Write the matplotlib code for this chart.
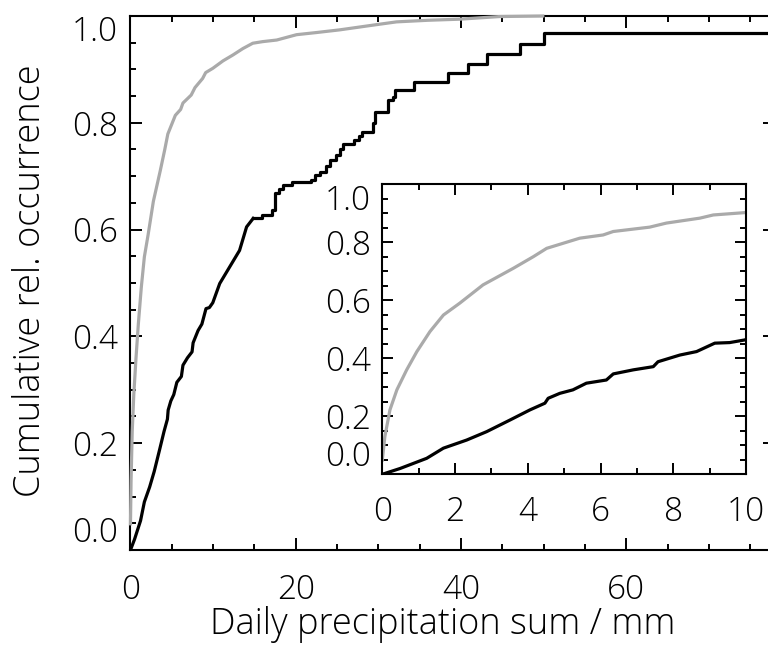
import matplotlib
matplotlib.use('Agg')
import matplotlib.pyplot as plt
from matplotlib.ticker import MultipleLocator

# gray curve, x in mm, y cumulative fraction
gray_x = [0, 0.07, 0.21, 0.4, 0.67, 0.95, 1.31, 1.68, 2.13, 2.77, 3.6, 4.15, 4.52,
          5.43, 6.07, 6.35, 7.35, 7.81, 8.73, 9.1, 9.96, 11.2, 12.4, 13.6, 14.8, 16.0,
          17.7, 20.1, 22.5, 25.3, 29.4, 32.2, 36.0, 39.8, 44.7, 49.9]
gray_y = [0.049, 0.13, 0.222, 0.291, 0.36, 0.423, 0.492, 0.549, 0.59, 0.653, 0.71, 0.75, 0.779,
          0.814, 0.825, 0.837, 0.852, 0.866, 0.883, 0.894, 0.902, 0.916, 0.927, 0.939, 0.949, 0.952,
          0.955, 0.965, 0.969, 0.974, 0.983, 0.989, 0.992, 0.994, 0.999, 1.0]

# black curve, smooth lower part
black_x = [0, 0.49, 1.22, 1.68, 2.32, 2.87, 3.51, 4.06, 4.47, 4.56, 4.88, 5.24, 5.61,
           6.16, 6.35, 6.9, 7.45, 7.58, 8.18, 8.64, 9.14, 9.55, 9.96, 10.8, 12.0, 13.2,
           14.05, 14.85]
black_y = [0, 0.02, 0.055, 0.09, 0.118, 0.147, 0.187, 0.222, 0.245, 0.262, 0.279, 0.291, 0.314,
           0.325, 0.346, 0.36, 0.371, 0.388, 0.411, 0.423, 0.452, 0.454, 0.463, 0.499, 0.53, 0.561,
           0.605, 0.621]

# black curve, stepped upper part
step_x = [14.85, 15.9, 17.1, 17.5, 18.0, 18.5, 19.5, 21.9, 22.3, 22.9, 23.7, 24.1, 24.9,
          25.3, 25.7, 27.1, 27.6, 28.0, 29.4, 29.6, 31.2, 31.8, 32.0, 34.3, 38.4, 40.9,
          43.1, 47.1, 50.0, 78.0]
step_y = [0.621, 0.628, 0.636, 0.668, 0.676, 0.684, 0.689, 0.693, 0.702, 0.708, 0.72, 0.73, 0.739,
          0.75, 0.761, 0.767, 0.776, 0.783, 0.799, 0.821, 0.843, 0.849, 0.861, 0.877, 0.894, 0.911,
          0.929, 0.948, 0.968, 0.968]

GRAY = '#aaaaaa'
LW = 2.3
FS = 24
LABEL_FS = 26

plt.rcParams['font.family'] = ['Open Sans', 'DejaVu Sans']
plt.rcParams['font.weight'] = 'light'
plt.rcParams['axes.labelweight'] = 'light'

fig = plt.figure(figsize=(7.68, 6.45), dpi=100)


def style_axes(a, xmaj, xmin, ymaj, ymin, majlen, minlen, xpad, ypad):
    a.xaxis.set_major_locator(MultipleLocator(xmaj))
    a.xaxis.set_minor_locator(MultipleLocator(xmin))
    a.yaxis.set_major_locator(MultipleLocator(ymaj))
    a.yaxis.set_minor_locator(MultipleLocator(ymin))
    a.tick_params(which='both', direction='in', top=True, right=True, width=1.4,
                  labelsize=FS, colors='black')
    a.tick_params(which='major', length=majlen)
    a.tick_params(which='minor', length=minlen)
    a.tick_params(axis='x', pad=xpad)
    a.tick_params(axis='y', pad=ypad)
    for s in a.spines.values():
        s.set_linewidth(1.5)


# main axes (right edge sits just outside the image)
ax = fig.add_axes([0.1699, 0.1473, 0.8392, 0.8279])
ax.plot(gray_x, gray_y, color=GRAY, lw=LW, zorder=3, clip_on=False)
ax.plot(black_x, black_y, color='black', lw=LW, zorder=3)
ax.plot(step_x, step_y, color='black', lw=LW, zorder=3, drawstyle='steps-post')
ax.set_xlim(0, 78)
ax.set_ylim(0, 1)
style_axes(ax, 20, 5, 0.2, 0.05, 8.6, 4.3, 17, 9)
ax.set_yticks([0, 0.2, 0.4, 0.6, 0.8, 1.0])
ax.set_yticklabels(['0.0', '0.2', '0.4', '0.6', '0.8', '1.0'])
ax.set_xticks([0, 20, 40, 60])
ax.set_xticklabels(['0', '20', '40', '60'])
yt = ax.yaxis.get_major_ticks()
yt[0].label1.set_va('bottom')
yt[-1].label1.set_va('top')
ax.set_xlabel('Daily precipitation sum / mm', fontsize=LABEL_FS, va='baseline')
ax.xaxis.set_label_coords(0.485, -0.157)
ax.set_ylabel('Cumulative rel. occurrence', fontsize=LABEL_FS, va='center')
ax.yaxis.set_label_coords(-0.155, 0.505)

# inset
ins = fig.add_axes([0.4978, 0.2647, 0.4736, 0.4497])
ins.plot(gray_x, gray_y, color=GRAY, lw=LW)
ins.plot(black_x, black_y, color='black', lw=LW)
ins.plot(step_x, step_y, color='black', lw=LW, drawstyle='steps-post')
ins.set_xlim(0, 10)
ins.set_ylim(0, 1)
style_axes(ins, 2, 1, 0.2, 0.05, 8, 4, 15, 8)
ins.set_yticks([0, 0.2, 0.4, 0.6, 0.8, 1.0])
ins.set_yticklabels(['0.0', '0.2', '0.4', '0.6', '0.8', '1.0'])
it = ins.yaxis.get_major_ticks()
it[0].label1.set_va('bottom')
it[-1].label1.set_va('top')

fig.savefig('out.png', dpi=100)
